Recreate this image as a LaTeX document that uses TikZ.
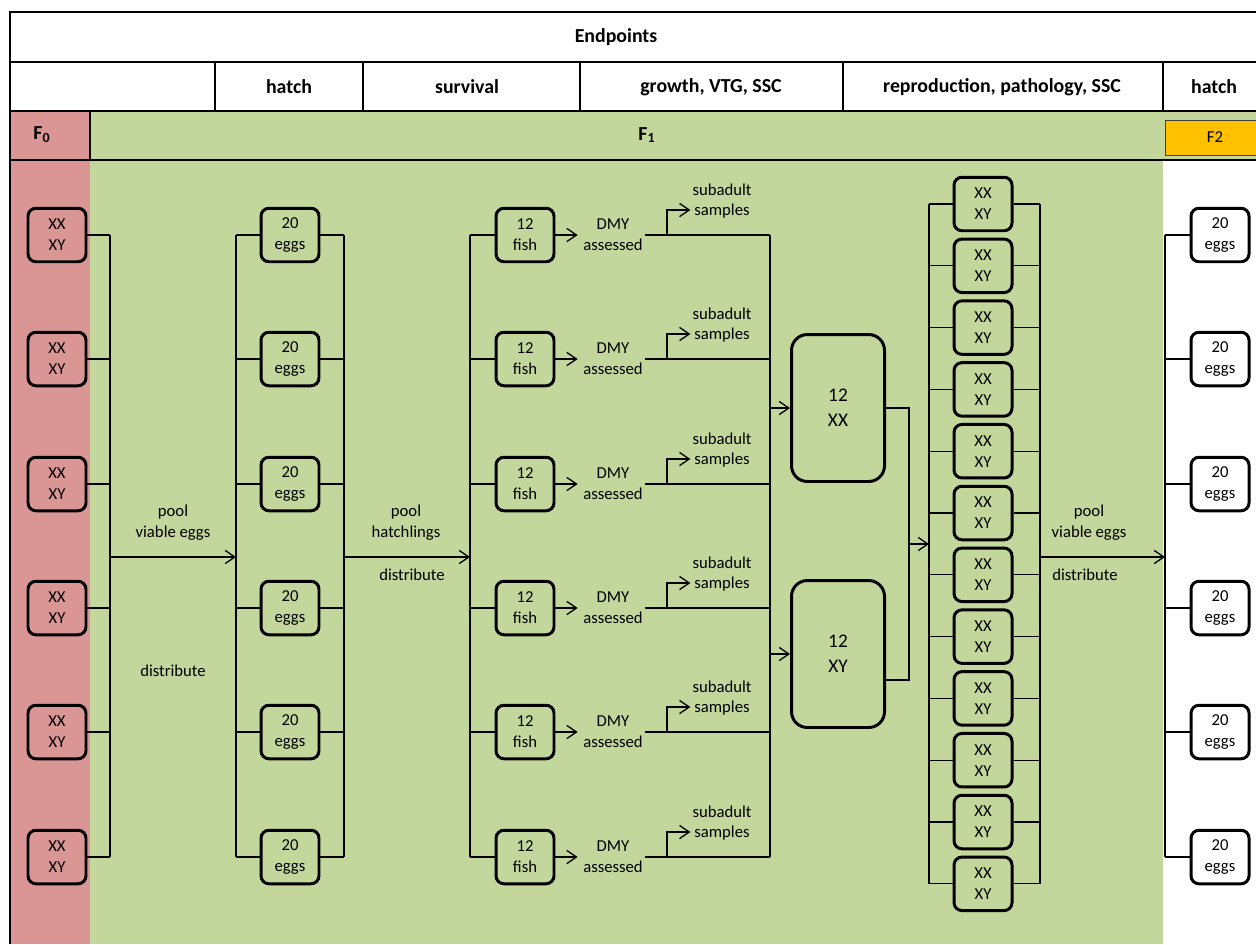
\documentclass[tikz,border=0pt]{standalone}
\usepackage{fontspec}
\setmainfont{Carlito}
\usetikzlibrary{arrows.meta}
\definecolor{fzero}{HTML}{D99694}
\definecolor{fone}{HTML}{C3D69B}
\definecolor{ftwo}{HTML}{FFC000}

\begin{document}
\begin{tikzpicture}[x=0.02cm, y=-0.02cm,
		box/.style={draw, line width=1.7pt, rounded corners=4.5pt, align=center, inner sep=0pt, font=\fontsize{9.5}{11.9}\selectfont},
		small/.style={box, minimum width=1.16cm, minimum height=1.07cm},
		big/.style={box, rounded corners=9pt, minimum width=1.86cm, minimum height=2.94cm, font=\fontsize{11}{14.2}\selectfont},
		link/.style={line width=0.75pt},
		arr/.style={link, -{Straight Barb[length=5.5pt, width=7.5pt]}},
		lbl/.style={align=center, inner sep=1pt, font=\fontsize{9.5}{11.9}\selectfont},
		head/.style={font=\bfseries\fontsize{11.3}{13}\selectfont},
		rule/.style={line width=1pt}]
		\clip (0,0) rectangle (1256,944);

		% table and generation bands
		\fill[fzero] (10,111) rectangle (90,944);
		\fill[fone] (90,111) rectangle (1163,944);
		\fill[fone] (1163,111) rectangle (1260,160);
		\draw[rule] (10,944) -- (10,12) -- (1260,12);
		\draw[rule] (10,62) -- (1260,62) (10,111) -- (1260,111) (10,160) -- (1260,160);
		\draw[rule] (90,111) -- (90,160);
		\foreach \x in {215,363,580,843,1163}
			\draw[rule] (\x,62) -- (\x,111);

		\node[head] (endpoints) at (616,37) {Endpoints};
		\node[head] (h-hatch) at (289,87) {hatch};
		\node[head] (h-surv) at (467,87) {survival};
		\node[head] (h-grow) at (711,87) {growth, VTG, SSC};
		\node[head] (h-repro) at (1002,87) {reproduction, pathology, SSC};
		\node[head] (h-hatch2) at (1214,87) {hatch};
		\node[head] (f0) at (42,135) {F$_{\mathbf{0}}$};
		\node[head] (f1) at (647,135) {F$_{\mathbf{1}}$};
		\node[draw=black!75, fill=ftwo, minimum width=2cm, minimum height=0.7cm, font=\fontsize{9.5}{11.9}\selectfont] (f2) at (1215,137.5) {F2};

		% bus lines
		\coordinate (f0bus) at (110,557);
		\coordinate (eggin) at (236,557);
		\coordinate (eggout) at (344,557);
		\coordinate (fishbus) at (470,557);
		\coordinate (dmybus) at (770,557);
		\coordinate (xxjoin) at (909,544);
		\coordinate (pairin) at (929,544);
		\coordinate (pairout) at (1040,557);
		\coordinate (f2bus) at (1165,557);

		\foreach \y [count=\i] in {235,359,484,608,732,857} {
			\node[small, fill=fzero] (par-\i) at (57,\y) {XX\\XY};
			\node[small, fill=fone] (egg-\i) at (290,\y) {20\\eggs};
			\node[small, fill=fone] (fish-\i) at (525,\y) {12\\fish};
			\node[lbl] (dmy-\i) at (613,\y) {DMY\\assessed};
			\node[lbl] (sub-\i) at (722,\y-34) {subadult\\samples};
			\node[small, fill=white] (next-\i) at (1220,\y) {20\\eggs};
			\draw[link] (par-\i.east) -- (par-\i.east -| f0bus);
			\draw[link] (egg-\i.west -| eggin) -- (egg-\i.west);
			\draw[link] (egg-\i.east) -- (egg-\i.east -| eggout);
			\draw[link] (fish-\i.west -| fishbus) -- (fish-\i.west);
			\draw[arr, shorten >=2pt] (fish-\i.east) -- (dmy-\i.west);
			\draw[link] (dmy-\i.east) -- (dmy-\i.east -| dmybus);
			\draw[arr] (dmy-\i.east) ++(22,0) |- ([yshift=-0.18cm]sub-\i.west);
			\draw[link] (next-\i.west -| f2bus) -- (next-\i.west);
		}
		\draw[link] (par-1.east -| f0bus) -- (par-6.east -| f0bus);
		\draw[link] (egg-1.west -| eggin) -- (egg-6.west -| eggin);
		\draw[link] (egg-1.east -| eggout) -- (egg-6.east -| eggout);
		\draw[link] (fish-1.west -| fishbus) -- (fish-6.west -| fishbus);
		\draw[link] (dmy-1.east -| dmybus) -- (dmy-6.east -| dmybus);
		\draw[link] (next-1.west -| f2bus) -- (next-6.west -| f2bus);

		\draw[arr] (f0bus) -- (eggin);
		\node[lbl] (pool-1) at (173,523) {pool\\viable eggs};
		\node[lbl] (dist-1) at (173,671) {distribute};
		\draw[arr] (eggout) -- (fishbus);
		\node[lbl] (pool-2) at (406,523) {pool\\hatchlings};
		\node[lbl] (dist-2) at (412,575) {distribute};

		% sexed groups
		\node[big, fill=fone] (xx) at (838,408) {12\\XX};
		\node[big, fill=fone] (xy) at (838,654) {12\\XY};
		\draw[arr] (dmybus |- xx.west) -- (xx.west);
		\draw[arr] (dmybus |- xy.west) -- (xy.west);
		\draw[link] (xx.east) -| (xxjoin) |- ([yshift=-0.52cm]xy.east);
		\draw[arr] (xxjoin) -- (pairin);

		\foreach \i in {1,...,12} {
			\node[small, fill=fone] (pair-\i) at (983,142.2+61.8*\i) {XX\\XY};
			\draw[link] (pair-\i.west -| pairin) -- (pair-\i.west);
			\draw[link] (pair-\i.east) -- (pair-\i.east -| pairout);
		}
		\draw[link] (pair-1.west -| pairin) -- (pair-12.west -| pairin);
		\draw[link] (pair-1.east -| pairout) -- (pair-12.east -| pairout);

		\draw[arr] (pairout) -- (f2bus);
		\node[lbl] (pool-3) at (1089,523) {pool\\viable eggs};
		\node[lbl] (dist-3) at (1085,575) {distribute};
	\end{tikzpicture}
\end{document}
